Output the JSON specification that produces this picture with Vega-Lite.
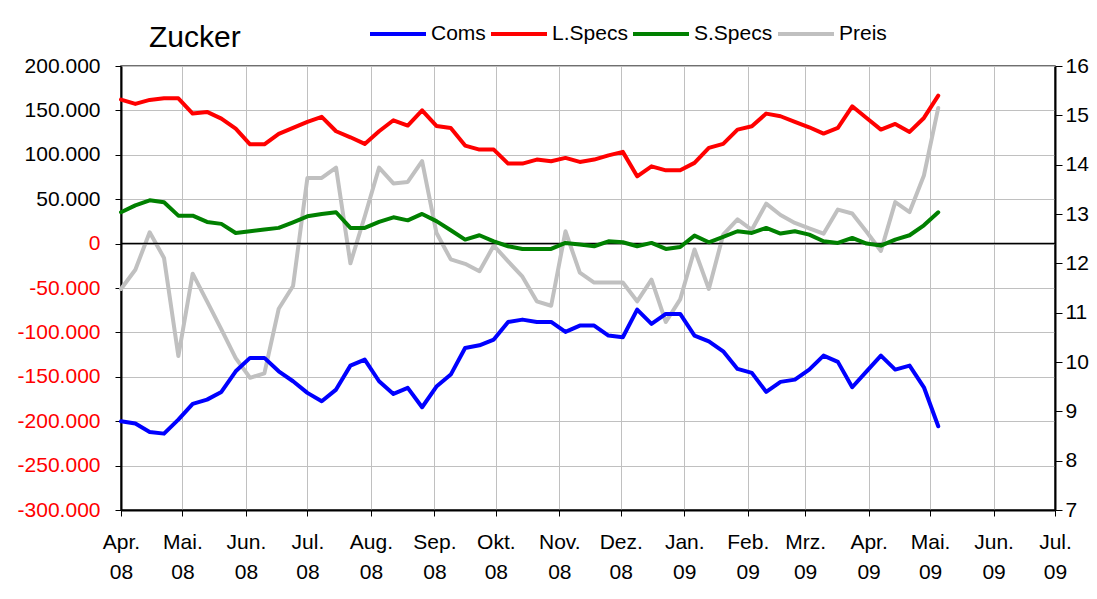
{
"$schema": "https://vega.github.io/schema/vega-lite/v6.json",
"width": 934, "height": 444,
"autosize": {"type": "none"},
"padding": {"left": 121, "top": 66, "right": 42, "bottom": 89},
"background": "white",
"config": {
  "font": "Liberation Sans",
  "view": {"stroke": "#404040", "strokeWidth": 1.5},
  "axis": {"labelFont": "Liberation Sans", "labelFontSize": 21, "labelColor": "black", "domainColor": "black", "tickColor": "black", "gridColor": "#c0c0c0", "gridWidth": 1, "title": null}
},
"title": {"text": "Zucker", "anchor": "start", "frame": "group", "fontSize": 30, "fontWeight": "normal", "font": "Liberation Sans", "color": "black", "baseline": "alphabetic", "offset": 0, "dx": 28, "dy": 73},
"datasets": {"cot": [
{"d":"2008-04-01T00:00","s":"Coms","v":-200100},{"d":"2008-04-01T00:00","s":"L.Specs","v":162150},{"d":"2008-04-01T00:00","s":"S.Specs","v":35300},{"d":"2008-04-01T00:00","s":"Preis","v":11.48},
{"d":"2008-04-08T00:00","s":"Coms","v":-202700},{"d":"2008-04-08T00:00","s":"L.Specs","v":157300},{"d":"2008-04-08T00:00","s":"S.Specs","v":43100},{"d":"2008-04-08T00:00","s":"Preis","v":11.87},
{"d":"2008-04-15T00:00","s":"Coms","v":-212100},{"d":"2008-04-15T00:00","s":"L.Specs","v":161800},{"d":"2008-04-15T00:00","s":"S.Specs","v":48800},{"d":"2008-04-15T00:00","s":"Preis","v":12.63},
{"d":"2008-04-22T00:00","s":"Coms","v":-214000},{"d":"2008-04-22T00:00","s":"L.Specs","v":163600},{"d":"2008-04-22T00:00","s":"S.Specs","v":46500},{"d":"2008-04-22T00:00","s":"Preis","v":12.11},
{"d":"2008-04-29T00:00","s":"Coms","v":-198200},{"d":"2008-04-29T00:00","s":"L.Specs","v":163600},{"d":"2008-04-29T00:00","s":"S.Specs","v":31500},{"d":"2008-04-29T00:00","s":"Preis","v":10.12},
{"d":"2008-05-06T00:00","s":"Coms","v":-180500},{"d":"2008-05-06T00:00","s":"L.Specs","v":146400},{"d":"2008-05-06T00:00","s":"S.Specs","v":31500},{"d":"2008-05-06T00:00","s":"Preis","v":11.79},
{"d":"2008-05-13T00:00","s":"Coms","v":-175700},{"d":"2008-05-13T00:00","s":"L.Specs","v":148300},{"d":"2008-05-13T00:00","s":"S.Specs","v":24400},{"d":"2008-05-13T00:00","s":"Preis","v":11.23},
{"d":"2008-05-20T00:00","s":"Coms","v":-167000},{"d":"2008-05-20T00:00","s":"L.Specs","v":140800},{"d":"2008-05-20T00:00","s":"S.Specs","v":22200},{"d":"2008-05-20T00:00","s":"Preis","v":10.66},
{"d":"2008-05-27T00:00","s":"Coms","v":-143800},{"d":"2008-05-27T00:00","s":"L.Specs","v":129500},{"d":"2008-05-27T00:00","s":"S.Specs","v":12000},{"d":"2008-05-27T00:00","s":"Preis","v":10.08},
{"d":"2008-06-03T00:00","s":"Coms","v":-128700},{"d":"2008-06-03T00:00","s":"L.Specs","v":111800},{"d":"2008-06-03T00:00","s":"S.Specs","v":13900},{"d":"2008-06-03T00:00","s":"Preis","v":9.68},
{"d":"2008-06-10T00:00","s":"Coms","v":-128700},{"d":"2008-06-10T00:00","s":"L.Specs","v":111800},{"d":"2008-06-10T00:00","s":"S.Specs","v":15800},{"d":"2008-06-10T00:00","s":"Preis","v":9.77},
{"d":"2008-06-17T00:00","s":"Coms","v":-143800},{"d":"2008-06-17T00:00","s":"L.Specs","v":123500},{"d":"2008-06-17T00:00","s":"S.Specs","v":17700},{"d":"2008-06-17T00:00","s":"Preis","v":11.08},
{"d":"2008-06-24T00:00","s":"Coms","v":-155000},{"d":"2008-06-24T00:00","s":"L.Specs","v":130300},{"d":"2008-06-24T00:00","s":"S.Specs","v":24000},{"d":"2008-06-24T00:00","s":"Preis","v":11.54},
{"d":"2008-07-01T00:00","s":"Coms","v":-168100},{"d":"2008-07-01T00:00","s":"L.Specs","v":137000},{"d":"2008-07-01T00:00","s":"S.Specs","v":30700},{"d":"2008-07-01T00:00","s":"Preis","v":13.73},
{"d":"2008-07-08T00:00","s":"Coms","v":-177600},{"d":"2008-07-08T00:00","s":"L.Specs","v":142700},{"d":"2008-07-08T00:00","s":"S.Specs","v":33400},{"d":"2008-07-08T00:00","s":"Preis","v":13.73},
{"d":"2008-07-15T00:00","s":"Coms","v":-164400},{"d":"2008-07-15T00:00","s":"L.Specs","v":126500},{"d":"2008-07-15T00:00","s":"S.Specs","v":35300},{"d":"2008-07-15T00:00","s":"Preis","v":13.94},
{"d":"2008-07-22T00:00","s":"Coms","v":-137400},{"d":"2008-07-22T00:00","s":"L.Specs","v":119700},{"d":"2008-07-22T00:00","s":"S.Specs","v":17700},{"d":"2008-07-22T00:00","s":"Preis","v":12.0},
{"d":"2008-07-29T00:00","s":"Coms","v":-130600},{"d":"2008-07-29T00:00","s":"L.Specs","v":112300},{"d":"2008-07-29T00:00","s":"S.Specs","v":17700},{"d":"2008-07-29T00:00","s":"Preis","v":12.95},
{"d":"2008-08-05T00:00","s":"Coms","v":-155000},{"d":"2008-08-05T00:00","s":"L.Specs","v":126500},{"d":"2008-08-05T00:00","s":"S.Specs","v":24400},{"d":"2008-08-05T00:00","s":"Preis","v":13.94},
{"d":"2008-08-12T00:00","s":"Coms","v":-169300},{"d":"2008-08-12T00:00","s":"L.Specs","v":138900},{"d":"2008-08-12T00:00","s":"S.Specs","v":29600},{"d":"2008-08-12T00:00","s":"Preis","v":13.62},
{"d":"2008-08-19T00:00","s":"Coms","v":-162500},{"d":"2008-08-19T00:00","s":"L.Specs","v":132900},{"d":"2008-08-19T00:00","s":"S.Specs","v":26200},{"d":"2008-08-19T00:00","s":"Preis","v":13.65},
{"d":"2008-08-26T00:00","s":"Coms","v":-184300},{"d":"2008-08-26T00:00","s":"L.Specs","v":150100},{"d":"2008-08-26T00:00","s":"S.Specs","v":33400},{"d":"2008-08-26T00:00","s":"Preis","v":14.07},
{"d":"2008-09-02T00:00","s":"Coms","v":-161000},{"d":"2008-09-02T00:00","s":"L.Specs","v":132500},{"d":"2008-09-02T00:00","s":"S.Specs","v":25300},{"d":"2008-09-02T00:00","s":"Preis","v":12.62},
{"d":"2008-09-09T00:00","s":"Coms","v":-147500},{"d":"2008-09-09T00:00","s":"L.Specs","v":130300},{"d":"2008-09-09T00:00","s":"S.Specs","v":15000},{"d":"2008-09-09T00:00","s":"Preis","v":12.08},
{"d":"2008-09-16T00:00","s":"Coms","v":-117500},{"d":"2008-09-16T00:00","s":"L.Specs","v":110400},{"d":"2008-09-16T00:00","s":"S.Specs","v":4500},{"d":"2008-09-16T00:00","s":"Preis","v":11.99},
{"d":"2008-09-23T00:00","s":"Coms","v":-114500},{"d":"2008-09-23T00:00","s":"L.Specs","v":105900},{"d":"2008-09-23T00:00","s":"S.Specs","v":9400},{"d":"2008-09-23T00:00","s":"Preis","v":11.84},
{"d":"2008-09-30T00:00","s":"Coms","v":-108100},{"d":"2008-09-30T00:00","s":"L.Specs","v":105900},{"d":"2008-09-30T00:00","s":"S.Specs","v":2600},{"d":"2008-09-30T00:00","s":"Preis","v":12.36},
{"d":"2008-10-07T00:00","s":"Coms","v":-88200},{"d":"2008-10-07T00:00","s":"L.Specs","v":90100},{"d":"2008-10-07T00:00","s":"S.Specs","v":-3000},{"d":"2008-10-07T00:00","s":"Preis","v":12.04},
{"d":"2008-10-14T00:00","s":"Coms","v":-85600},{"d":"2008-10-14T00:00","s":"L.Specs","v":90100},{"d":"2008-10-14T00:00","s":"S.Specs","v":-6000},{"d":"2008-10-14T00:00","s":"Preis","v":11.73},
{"d":"2008-10-21T00:00","s":"Coms","v":-88200},{"d":"2008-10-21T00:00","s":"L.Specs","v":94600},{"d":"2008-10-21T00:00","s":"S.Specs","v":-6000},{"d":"2008-10-21T00:00","s":"Preis","v":11.23},
{"d":"2008-10-28T00:00","s":"Coms","v":-88200},{"d":"2008-10-28T00:00","s":"L.Specs","v":92700},{"d":"2008-10-28T00:00","s":"S.Specs","v":-6000},{"d":"2008-10-28T00:00","s":"Preis","v":11.14},
{"d":"2008-11-04T00:00","s":"Coms","v":-99400},{"d":"2008-11-04T00:00","s":"L.Specs","v":96500},{"d":"2008-11-04T00:00","s":"S.Specs","v":800},{"d":"2008-11-04T00:00","s":"Preis","v":12.65},
{"d":"2008-11-11T00:00","s":"Coms","v":-92300},{"d":"2008-11-11T00:00","s":"L.Specs","v":92000},{"d":"2008-11-11T00:00","s":"S.Specs","v":-1100},{"d":"2008-11-11T00:00","s":"Preis","v":11.81},
{"d":"2008-11-18T00:00","s":"Coms","v":-92300},{"d":"2008-11-18T00:00","s":"L.Specs","v":94600},{"d":"2008-11-18T00:00","s":"S.Specs","v":-3000},{"d":"2008-11-18T00:00","s":"Preis","v":11.61},
{"d":"2008-11-25T00:00","s":"Coms","v":-103600},{"d":"2008-11-25T00:00","s":"L.Specs","v":99400},{"d":"2008-11-25T00:00","s":"S.Specs","v":2600},{"d":"2008-11-25T00:00","s":"Preis","v":11.61},
{"d":"2008-12-02T00:00","s":"Coms","v":-105500},{"d":"2008-12-02T00:00","s":"L.Specs","v":103300},{"d":"2008-12-02T00:00","s":"S.Specs","v":1500},{"d":"2008-12-02T00:00","s":"Preis","v":11.61},
{"d":"2008-12-09T00:00","s":"Coms","v":-74300},{"d":"2008-12-09T00:00","s":"L.Specs","v":75800},{"d":"2008-12-09T00:00","s":"S.Specs","v":-3000},{"d":"2008-12-09T00:00","s":"Preis","v":11.23},
{"d":"2008-12-16T00:00","s":"Coms","v":-90400},{"d":"2008-12-16T00:00","s":"L.Specs","v":87000},{"d":"2008-12-16T00:00","s":"S.Specs","v":800},{"d":"2008-12-16T00:00","s":"Preis","v":11.67},
{"d":"2008-12-23T00:00","s":"Coms","v":-79200},{"d":"2008-12-23T00:00","s":"L.Specs","v":82500},{"d":"2008-12-23T00:00","s":"S.Specs","v":-6000},{"d":"2008-12-23T00:00","s":"Preis","v":10.81},
{"d":"2008-12-30T00:00","s":"Coms","v":-79200},{"d":"2008-12-30T00:00","s":"L.Specs","v":82500},{"d":"2008-12-30T00:00","s":"S.Specs","v":-3800},{"d":"2008-12-30T00:00","s":"Preis","v":11.27},
{"d":"2009-01-06T00:00","s":"Coms","v":-103600},{"d":"2009-01-06T00:00","s":"L.Specs","v":90900},{"d":"2009-01-06T00:00","s":"S.Specs","v":9000},{"d":"2009-01-06T00:00","s":"Preis","v":12.28},
{"d":"2009-01-13T00:00","s":"Coms","v":-110000},{"d":"2009-01-13T00:00","s":"L.Specs","v":107800},{"d":"2009-01-13T00:00","s":"S.Specs","v":1500},{"d":"2009-01-13T00:00","s":"Preis","v":11.48},
{"d":"2009-01-20T00:00","s":"Coms","v":-121300},{"d":"2009-01-20T00:00","s":"L.Specs","v":112300},{"d":"2009-01-20T00:00","s":"S.Specs","v":7500},{"d":"2009-01-20T00:00","s":"Preis","v":12.58},
{"d":"2009-01-27T00:00","s":"Coms","v":-141100},{"d":"2009-01-27T00:00","s":"L.Specs","v":128400},{"d":"2009-01-27T00:00","s":"S.Specs","v":13900},{"d":"2009-01-27T00:00","s":"Preis","v":12.89},
{"d":"2009-02-03T00:00","s":"Coms","v":-145600},{"d":"2009-02-03T00:00","s":"L.Specs","v":132100},{"d":"2009-02-03T00:00","s":"S.Specs","v":12000},{"d":"2009-02-03T00:00","s":"Preis","v":12.68},
{"d":"2009-02-10T00:00","s":"Coms","v":-167000},{"d":"2009-02-10T00:00","s":"L.Specs","v":146400},{"d":"2009-02-10T00:00","s":"S.Specs","v":17700},{"d":"2009-02-10T00:00","s":"Preis","v":13.21},
{"d":"2009-02-17T00:00","s":"Coms","v":-155700},{"d":"2009-02-17T00:00","s":"L.Specs","v":143400},{"d":"2009-02-17T00:00","s":"S.Specs","v":11300},{"d":"2009-02-17T00:00","s":"Preis","v":12.98},
{"d":"2009-02-24T00:00","s":"Coms","v":-153200},{"d":"2009-02-24T00:00","s":"L.Specs","v":137000},{"d":"2009-02-24T00:00","s":"S.Specs","v":13900},{"d":"2009-02-24T00:00","s":"Preis","v":12.82},
{"d":"2009-03-03T00:00","s":"Coms","v":-141900},{"d":"2009-03-03T00:00","s":"L.Specs","v":131000},{"d":"2009-03-03T00:00","s":"S.Specs","v":10100},{"d":"2009-03-03T00:00","s":"Preis","v":12.71},
{"d":"2009-03-10T00:00","s":"Coms","v":-126100},{"d":"2009-03-10T00:00","s":"L.Specs","v":123900},{"d":"2009-03-10T00:00","s":"S.Specs","v":2600},{"d":"2009-03-10T00:00","s":"Preis","v":12.60},
{"d":"2009-03-17T00:00","s":"Coms","v":-133200},{"d":"2009-03-17T00:00","s":"L.Specs","v":130300},{"d":"2009-03-17T00:00","s":"S.Specs","v":800},{"d":"2009-03-17T00:00","s":"Preis","v":13.09},
{"d":"2009-03-24T00:00","s":"Coms","v":-161800},{"d":"2009-03-24T00:00","s":"L.Specs","v":154600},{"d":"2009-03-24T00:00","s":"S.Specs","v":6400},{"d":"2009-03-24T00:00","s":"Preis","v":13.01},
{"d":"2009-03-31T00:00","s":"Coms","v":-143800},{"d":"2009-03-31T00:00","s":"L.Specs","v":141500},{"d":"2009-03-31T00:00","s":"S.Specs","v":0},{"d":"2009-03-31T00:00","s":"Preis","v":12.64},
{"d":"2009-04-07T00:00","s":"Coms","v":-126100},{"d":"2009-04-07T00:00","s":"L.Specs","v":128400},{"d":"2009-04-07T00:00","s":"S.Specs","v":-2300},{"d":"2009-04-07T00:00","s":"Preis","v":12.25},
{"d":"2009-04-14T00:00","s":"Coms","v":-141900},{"d":"2009-04-14T00:00","s":"L.Specs","v":134800},{"d":"2009-04-14T00:00","s":"S.Specs","v":4500},{"d":"2009-04-14T00:00","s":"Preis","v":13.24},
{"d":"2009-04-21T00:00","s":"Coms","v":-137400},{"d":"2009-04-21T00:00","s":"L.Specs","v":125800},{"d":"2009-04-21T00:00","s":"S.Specs","v":9400},{"d":"2009-04-21T00:00","s":"Preis","v":13.04},
{"d":"2009-04-28T00:00","s":"Coms","v":-161800},{"d":"2009-04-28T00:00","s":"L.Specs","v":141500},{"d":"2009-04-28T00:00","s":"S.Specs","v":20600},{"d":"2009-04-28T00:00","s":"Preis","v":13.78},
{"d":"2009-05-05T00:00","s":"Coms","v":-205700},{"d":"2009-05-05T00:00","s":"L.Specs","v":166700},{"d":"2009-05-05T00:00","s":"S.Specs","v":35300},{"d":"2009-05-05T00:00","s":"Preis","v":15.15}
]},
"data": {"name": "cot"},
"layer": [
  {
    "transform": [{"filter": "datum.s === 'Preis'"}],
    "mark": {"type": "line", "strokeWidth": 4, "strokeJoin": "round", "strokeCap": "round"},
    "encoding": {
      "x": {"field": "d", "type": "temporal",
        "scale": {"domain": [{"year": 2008, "month": 4, "date": 1}, {"year": 2009, "month": 7, "date": 1}], "nice": false},
        "axis": {"tickCount": {"interval": "month", "step": 1}, "labelExpr": "[['Jan.','Feb.','Mrz.','Apr.','Mai.','Jun.','Jul.','Aug.','Sep.','Okt.','Nov.','Dez.'][month(datum.value)], timeFormat(datum.value, '%y')]", "labelLineHeight": 30, "tickSize": 6, "labelPadding": 15, "grid": true, "domainWidth": 2, "labelFlush": false, "labelOverlap": false, "labelBound": false, "labelAlign": "center"}},
      "y": {"field": "v", "type": "quantitative",
        "scale": {"domain": [7, 16], "nice": false, "zero": false},
        "axis": {"orient": "right", "values": [7, 8, 9, 10, 11, 12, 13, 14, 15, 16], "grid": false, "tickSize": 7, "labelPadding": 3, "domainWidth": 2}},
      "color": {"field": "s", "type": "nominal",
        "scale": {"domain": ["Coms", "L.Specs", "S.Specs", "Preis"], "range": ["#0000ff", "#ff0000", "#008000", "#c0c0c0"]},
        "legend": {"orient": "none", "legendX": 247, "legendY": -62, "direction": "horizontal", "title": null, "symbolType": "stroke", "symbolStrokeWidth": 4, "symbolSize": 3136, "labelFontSize": 21, "labelFont": "Liberation Sans", "labelColor": "black", "labelOffset": 3, "columnPadding": -3, "padding": 0}}
    }
  },
  {
    "layer": [
      {
        "data": {"values": [{"z": 0}]},
        "mark": {"type": "rule", "color": "black", "strokeWidth": 1.5},
        "encoding": {"y": {"field": "z", "type": "quantitative"}}
      },
      {
        "transform": [{"filter": "datum.s !== 'Preis'"}],
        "mark": {"type": "line", "strokeWidth": 4, "strokeJoin": "round", "strokeCap": "round"},
        "encoding": {
          "x": {"field": "d", "type": "temporal"},
          "y": {"field": "v", "type": "quantitative",
            "scale": {"domain": [-300000, 200000], "nice": false},
            "axis": {"orient": "left", "values": [-300000, -250000, -200000, -150000, -100000, -50000, 0, 50000, 100000, 150000, 200000], "grid": true, "tickSize": 6, "labelPadding": 15, "domainWidth": 2,
              "labelExpr": "(datum.value < 0 ? '-' : '') + replace(format(abs(datum.value), ',d'), ',', '.')",
              "labelColor": {"condition": {"test": "datum.value <= 0", "value": "#ff0000"}, "value": "black"}}},
          "color": {"field": "s", "type": "nominal"}
        }
      }
    ]
  }
],
"resolve": {"scale": {"y": "independent"}}
}
